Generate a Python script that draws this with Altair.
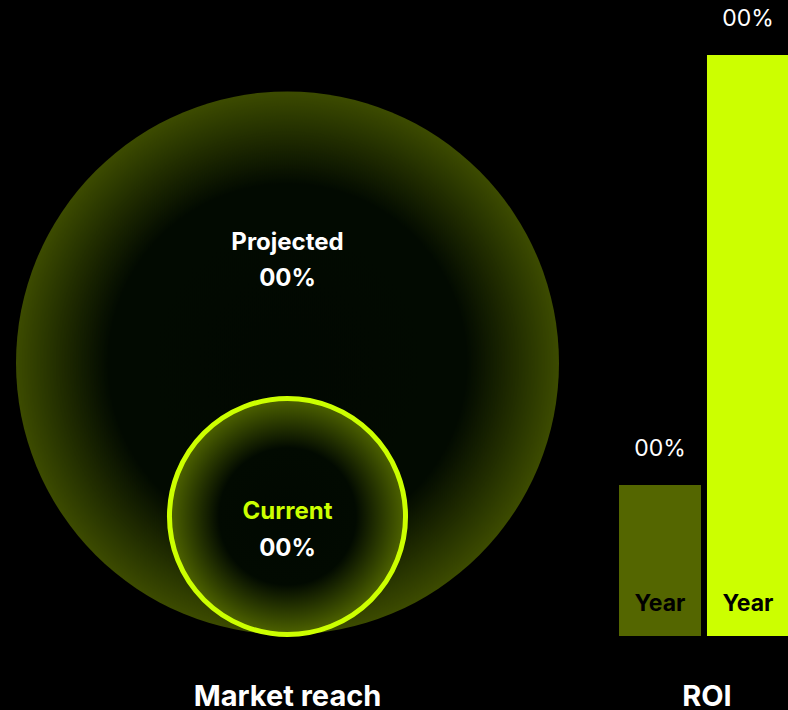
import altair as alt
import pandas as pd

# ---- data ----
reach_labels = ["Projected", "Current"]
reach_values = [100, 18.9]          # relative reach (circle area)
reach_texts = ["00%", "00%"]

roi_ids = ["Y1", "Y2"]
roi_labels = ["Year", "Year"]
roi_values = [26, 100]
roi_texts = ["00%", "00%"]

panel_titles = ["Market reach", "ROI"]

reach_df = pd.DataFrame({"label": reach_labels, "reach": reach_values, "text": reach_texts})
roi_df = pd.DataFrame({"id": roi_ids, "label": roi_labels, "roi": roi_values, "text": roi_texts})
title_df = pd.DataFrame({"title": panel_titles})

FONT = "Inter"
LIME = "#CCFF00"

grad_big = {
    "gradient": "radial", "x1": 0.5, "y1": 0.5, "r1": 0, "x2": 0.5, "y2": 0.5, "r2": 0.5,
    "stops": [
        {"offset": 0, "color": "#010801"},
        {"offset": 0.66, "color": "#020a01"},
        {"offset": 1, "color": "#3c4b00"},
    ],
}
grad_small = {
    "gradient": "radial", "x1": 0.5, "y1": 0.5, "r1": 0, "x2": 0.5, "y2": 0.5, "r2": 0.5,
    "stops": [
        {"offset": 0, "color": "#010801"},
        {"offset": 0.58, "color": "#020a01"},
        {"offset": 1, "color": "#4f6400"},
    ],
}

# ---- circles (market reach) ----
ysc_c = alt.Scale(domain=[0, 1], range=[634.5, 363])
ssc_c = alt.Scale(domain=[0, 100], range=[0, 294849], zero=True)
base_c = alt.Chart(reach_df).transform_calculate(rad="sqrt(datum.reach/100)")
enc_c = dict(
    x=alt.value(287.5),
    y=alt.Y("rad:Q", scale=ysc_c, axis=None),
    size=alt.Size("reach:Q", scale=ssc_c, legend=None),
)
big = base_c.transform_filter(alt.datum.label == "Projected").mark_point(
    shape="circle", filled=True, opacity=1, fill=grad_big, strokeWidth=0
).encode(**enc_c)
small = base_c.transform_filter(alt.datum.label == "Current").mark_point(
    shape="circle", filled=True, opacity=1, fill=grad_small, stroke=LIME, strokeWidth=5, strokeOpacity=1
).encode(**enc_c)

def label_layer(name, field, y, color, weight=700):
    return alt.Chart(reach_df).transform_filter(alt.datum.label == name).mark_text(
        font=FONT, fontSize=24, fontWeight=weight, color=color, baseline="alphabetic", align="center"
    ).encode(x=alt.value(287.5), y=alt.value(y), text=f"{field}:N")

proj_lbl = label_layer("Projected", "label", 250, "#FFFFFF")
proj_val = label_layer("Projected", "text", 286, "#FFFFFF")
cur_lbl = label_layer("Current", "label", 519, LIME)
cur_val = label_layer("Current", "text", 556, "#FFFFFF")

# ---- panel titles ----
titles = alt.Chart(title_df).mark_text(
    font=FONT, fontSize=29, fontWeight=700, color="#FFFFFF", baseline="alphabetic", align="center"
).encode(
    x=alt.X("title:N", scale=alt.Scale(domain=panel_titles, range=[287.5, 707], padding=0), axis=None),
    y=alt.value(706),
    text="title:N",
)

# ---- ROI bars ----
xsc_b = alt.Scale(domain=roi_ids, range=[619, 789], paddingInner=0.068, paddingOuter=0)
ysc_b = alt.Scale(domain=[0, 100], range=[636, 55])
bx = alt.X("id:N", scale=xsc_b, axis=None)
by = alt.Y("roi:Q", scale=ysc_b, axis=None)

bars = alt.Chart(roi_df).mark_bar(cornerRadius=0).encode(
    x=bx, y=by,
    color=alt.Color("id:N", scale=alt.Scale(domain=roi_ids, range=["#546600", LIME]), legend=None),
)
bar_vals = alt.Chart(roi_df).mark_text(
    font=FONT, fontSize=23, fontWeight=400, color="#FFFFFF", baseline="alphabetic", align="center", dy=-29
).encode(x=bx, y=by, text="text:N")
bar_years = alt.Chart(roi_df).mark_text(
    font=FONT, fontSize=23, fontWeight=700, color="#000000", baseline="alphabetic", align="center"
).encode(x=bx, y=alt.value(611), text="label:N")

roi_layer = alt.layer(bars, bar_vals, bar_years)

chart = alt.layer(
    big, small, proj_lbl, proj_val, cur_lbl, cur_val, titles, roi_layer
).resolve_scale(
    x="independent", y="independent", color="independent", size="independent"
).properties(
    width=788, height=710, background="#000000", padding=0, autosize="none"
).configure_view(stroke=None)

chart.save("out.html", embed_options={"renderer": "svg", "actions": False})
